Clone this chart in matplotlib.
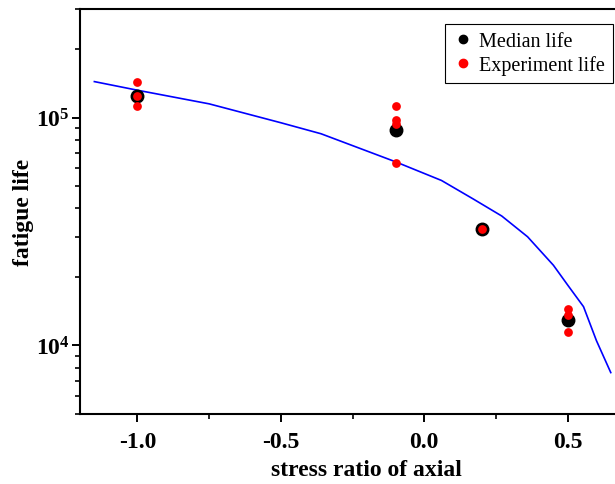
import matplotlib
matplotlib.use('Agg')
import matplotlib.pyplot as plt
from matplotlib.lines import Line2D
from matplotlib.ticker import MultipleLocator, LogLocator, NullFormatter

plt.rcParams['font.family'] = ['Liberation Serif', 'DejaVu Serif']
plt.rcParams['mathtext.fontset'] = 'custom'
plt.rcParams['mathtext.rm'] = 'Liberation Serif:bold'
plt.rcParams['mathtext.bf'] = 'Liberation Serif:bold'
plt.rcParams['axes.unicode_minus'] = False

# median life at each stress ratio
median_x = [-1.0, -0.1, 0.2, 0.5]
median_y = [1.25e5, 8.8e4, 3.23e4, 1.29e4]

# individual experiment lives
exp_x = [-1.0, -1.0, -1.0, -0.1, -0.1, -0.1, -0.1, 0.2, 0.5, 0.5, 0.5]
exp_y = [1.43e5, 1.25e5, 1.125e5, 1.12e5, 9.8e4, 9.4e4, 6.3e4, 3.23e4, 1.45e4, 1.355e4, 1.146e4]

# predicted curve
curve_x = [-1.15, -1.0, -0.75, -0.5, -0.36, -0.1, 0.06, 0.17, 0.27, 0.36, 0.45, 0.5, 0.555, 0.6, 0.65]
curve_y = [1.44e5, 1.32e5, 1.15e5, 9.5e4, 8.5e4, 6.4e4, 5.3e4, 4.4e4, 3.7e4, 3.0e4, 2.25e4, 1.84e4, 1.48e4, 1.05e4, 7.6e3]

fig = plt.figure(figsize=(6.15, 4.85), dpi=100)
ax = fig.add_axes([0.1301, 0.1443, 0.933, 0.8351])

ax.plot(curve_x, curve_y, color='#0000ff', lw=1.2, zorder=2)
ax.plot(median_x, median_y, 'o', color='black', ms=9, mec='black', zorder=3)
ax.plot(exp_x, exp_y, 'o', color='red', ms=6.3, mec='red', mew=0, zorder=4)

ax.set_yscale('log')
ax.set_xlim(-1.2, 0.8)
ax.set_ylim(5000, 3e5)

ax.set_yticks([1e4, 1e5])
ax.set_yticklabels([r'$\mathbf{10^{4}}$', r'$\mathbf{10^{5}}$'])
ax.yaxis.set_minor_locator(LogLocator(base=10, subs=range(2, 10)))
ax.yaxis.set_minor_formatter(NullFormatter())

ax.xaxis.set_major_locator(MultipleLocator(0.5))
ax.xaxis.set_minor_locator(MultipleLocator(0.25))
ax.set_xticks([-1.0, -0.5, 0.0, 0.5])
ax.set_xticklabels(['-1.0', '-0.5', '0.0', '0.5'])

for sp in ax.spines.values():
    sp.set_linewidth(1.5)
ax.spines['right'].set_visible(False)

ax.tick_params(which='major', direction='out', length=5.5, width=1.4, labelsize=17)
ax.tick_params(which='minor', direction='out', length=3.5, width=1.2)
ax.tick_params(axis='x', which='major', pad=7)
ax.tick_params(axis='y', which='major', pad=2)
for lab in ax.get_xticklabels():
    lab.set_fontweight('bold')

ax.set_xlabel('stress ratio of axial', fontsize=17, fontweight='bold', labelpad=5)
ax.set_ylabel('fatigue life', fontsize=17, fontweight='bold')
ax.yaxis.set_label_coords(-0.08, 0.5)

handles = [
    Line2D([], [], ls='none', marker='o', color='black', ms=6),
    Line2D([], [], ls='none', marker='o', color='red', ms=6),
]
leg = ax.legend(handles, ['Median life', 'Experiment life'], loc='upper right',
                bbox_to_anchor=(0.9296, 0.963), borderaxespad=0, fontsize=14.5,
                fancybox=False, edgecolor='black', framealpha=1,
                handlelength=1.0, handletextpad=0.3, labelspacing=0.2)
leg.get_frame().set_linewidth(0.8)

fig.savefig('out.png', dpi=100)
